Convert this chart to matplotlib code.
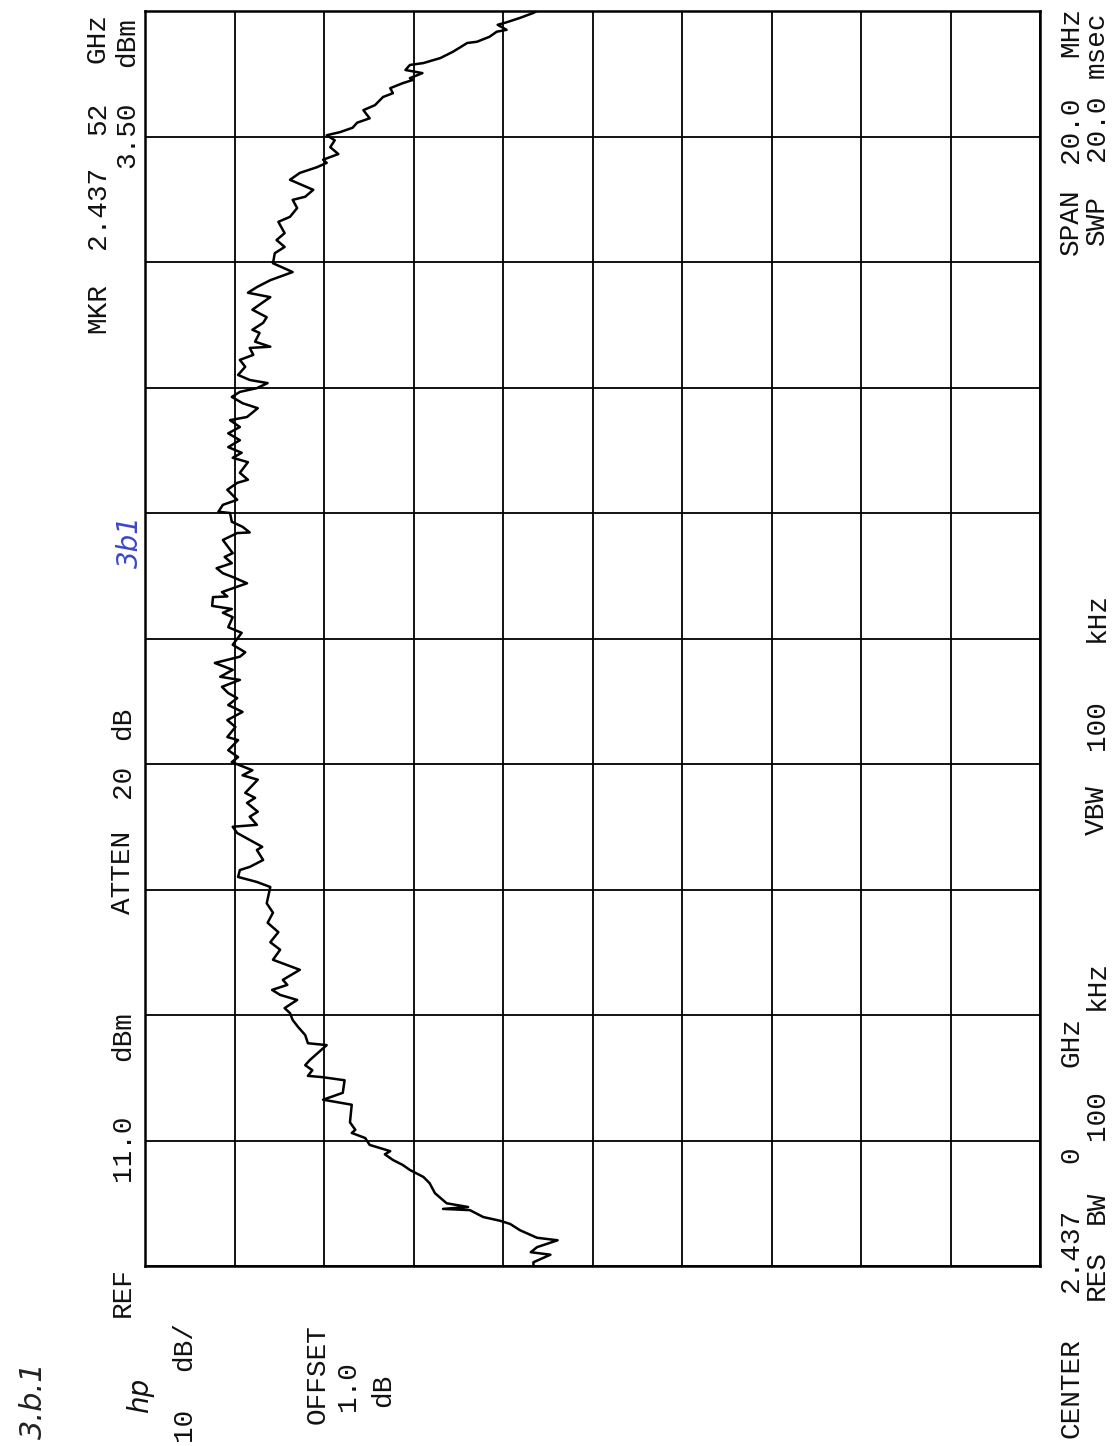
import matplotlib
matplotlib.use("Agg")
import matplotlib.pyplot as plt

# analyzer settings
center_ghz = 2.437
span_mhz = 20.0
ref_dbm = 11.0
db_per_div = 10
n_div = 10

# swept trace: offset from center (MHz) and level (dBm)
freq_offset_mhz = [
    -10.00, -9.94, -9.82, -9.78, -9.70, -9.59, -9.55, -9.43, -9.33, -9.28,
    -9.22, -9.11, -9.09, -9.06, -9.00, -8.84, -8.68, -8.58, -8.47, -8.39,
    -8.31, -8.22, -8.17, -8.07, -7.96, -7.88, -7.83, -7.71, -7.43, -7.35,
    -7.24, -7.04, -6.99, -6.97, -6.88, -6.80, -6.72, -6.48, -6.45, -6.32,
    -6.19, -6.08, -5.97, -5.89, -5.76, -5.68, -5.60, -5.52, -5.44, -5.28,
    -5.12, -4.96, -4.84, -4.68, -4.53, -4.37, -4.22, -3.96, -3.88, -3.80,
    -3.69, -3.64, -3.53, -3.37, -3.32, -3.21, -3.10, -3.00, -2.97, -2.84,
    -2.76, -2.62, -2.54, -2.46, -2.25, -2.18, -2.10, -2.02, -1.97, -1.89,
    -1.78, -1.62, -1.57, -1.41, -1.30, -1.17, -1.06, -0.95, -0.87, -0.77,
    -0.66, -0.61, -0.50, -0.39, -0.29, -0.22, -0.10, 0.09, 0.18, 0.34,
    0.41, 0.47, 0.52, 0.66, 0.67, 0.74, 0.80, 0.88, 0.98, 1.04,
    1.12, 1.20, 1.30, 1.36, 1.57, 1.68, 1.69, 1.78, 1.86, 2.00,
    2.02, 2.13, 2.21, 2.37, 2.48, 2.53, 2.64, 2.81, 2.88, 2.96,
    3.05, 3.16, 3.27, 3.37, 3.48, 3.53, 3.67, 3.75, 3.85, 3.93,
    3.99, 4.07, 4.12, 4.20, 4.33, 4.44, 4.52, 4.63, 4.65, 4.73,
    4.87, 4.92, 5.03, 5.12, 5.24, 5.36, 5.44, 5.51, 5.60, 5.71,
    5.84, 5.98, 6.14, 6.24, 6.35, 6.46, 6.64, 6.72, 6.86, 6.99,
    7.04, 7.15, 7.31, 7.42, 7.51, 7.58, 7.63, 7.72, 7.83, 7.94,
    8.02, 8.07, 8.14, 8.22, 8.29, 8.42, 8.50, 8.63, 8.69, 8.77,
    8.85, 8.90, 8.93, 9.01, 9.06, 9.14, 9.17, 9.25, 9.35, 9.49,
    9.51, 9.59, 9.67, 9.70, 9.78, 9.82, 9.89, 9.97, 10.00,
]
level_dbm = [
    -32.4, -32.4, -34.3, -32.1, -32.8, -35.1, -32.8, -30.9, -29.8, -28.7,
    -26.8, -25.3, -22.3, -25.1, -22.7, -21.4, -20.8, -20.1, -18.6, -17.8,
    -16.7, -15.8, -16.4, -14.1, -13.6, -12.1, -12.5, -11.9, -12.1, -8.9,
    -11.1, -11.3, -8.8, -7.2, -7.7, -6.9, -7.4, -9.3, -7.2, -6.9,
    -6.1, -5.5, -5.2, -4.6, -6.0, -4.1, -3.2, -4.9, -4.4, -6.3,
    -3.3, -4.1, -3.0, -3.9, -2.7, -3.3, -2.6, -3.0, -1.5, 0.6,
    0.4, -0.7, -2.2, -1.5, -2.1, -0.7, 0.7, 1.2, -1.5, -0.7,
    -1.6, -0.4, -1.3, -0.2, -1.6, 0.1, -1.0, 0.4, 1.3, 0.6,
    1.7, 0.6, 1.8, 0.9, 1.8, 0.1, 1.7, 0.7, 1.7, 2.4,
    0.4, 2.6, 1.2, 3.2, 0.4, -0.2, 1.2, 0.2, 1.7, 1.2,
    2.3, 1.3, 3.5, 3.4, 1.8, 2.4, 1.2, -0.4, 1.2, 2.3,
    3.0, 1.3, 2.1, 1.2, 2.3, 0.7, -0.7, 0.1, 1.3, 1.5,
    2.8, 2.3, 0.7, 1.8, 0.7, -0.5, 0.4, -0.5, 1.2, 0.2,
    1.7, 0.4, 1.7, 0.4, 1.5, -0.4, -1.6, 0.1, 1.3, 0.4,
    -1.5, -2.7, -0.7, 0.6, -0.2, 0.4, -1.1, -0.7, -3.0, -1.3,
    -1.8, -1.0, -2.2, -2.6, -1.0, -2.2, -3.0, -0.5, -1.5, -3.0,
    -5.5, -3.3, -3.5, -4.6, -3.7, -4.6, -3.9, -5.2, -6.0, -5.5,
    -6.9, -7.8, -5.2, -6.3, -8.2, -9.3, -8.9, -10.6, -9.7, -10.2,
    -9.3, -10.8, -12.2, -12.7, -14.1, -13.4, -14.7, -15.6, -16.7, -16.4,
    -17.8, -18.9, -18.6, -20.0, -18.1, -18.6, -20.1, -22.0, -23.4, -25.0,
    -26.1, -27.5, -28.3, -29.4, -28.4, -29.4, -30.9, -32.4, -32.8,
]

W, H = 1112, 1446
fig = plt.figure(figsize=(W / 100, H / 100), dpi=100)
fig.patch.set_facecolor("white")

# plot printed sideways: level runs left->right, frequency bottom->top
ax = fig.add_axes([145 / W, 1 - 1266 / H, (1040 - 145) / W, (1266 - 11) / H])
ax.plot(level_dbm, freq_offset_mhz, color="black", lw=1.8)
ax.set_xlim(ref_dbm, ref_dbm - n_div * db_per_div)
ax.set_ylim(-span_mhz / 2, span_mhz / 2)
ax.set_xticks([ref_dbm - i * db_per_div for i in range(n_div + 1)])
ax.set_yticks([-span_mhz / 2 + i * span_mhz / n_div for i in range(n_div + 1)])
ax.tick_params(length=0, labelbottom=False, labelleft=False)
ax.grid(True, color="black", lw=1.3)
for s in ax.spines.values():
    s.set_linewidth(1.8)


def rtext(x, y, s, **kw):
    # x, y in pixels from the top-left corner, text reads bottom to top
    opts = dict(family="Liberation Mono", fontsize=20, color="#111111")
    opts.update(kw)
    fig.text(x / W, 1 - y / H, s, rotation=90, rotation_mode="anchor",
             ha="center", va="center", **opts)


def rline(x, words, **kw):
    # one annotation row, each word centred at its own spot
    for s, y in words:
        rtext(x, y, s, **kw)


marker_ghz = f"{center_ghz + 0.00052:.5f}"
rline(98, [("MKR", 308), (marker_ghz[:5], 207), (marker_ghz[5:], 118),
           ("GHz", 38)])
rline(123, [("REF", 1292), (f"{ref_dbm:.1f}", 1148), ("dBm", 1036),
            ("ATTEN", 872), ("20", 781), ("dB", 723)])
rline(127, [("3.50", 135), ("dBm", 42)])
rline(184, [(f"{db_per_div}", 1424), ("dB/", 1346)])
rtext(318, 1374, "OFFSET")
rtext(348, 1386, "1.0")
rtext(383, 1390, "dB")

rline(1071, [("CENTER", 1388), (f"{center_ghz:.3f}", 1250), ("0", 1155),
             ("GHz", 1042), ("SPAN", 222), (f"{span_mhz:.1f}", 130),
             ("MHz", 32)])
rline(1097, [("RES", 1275), ("BW", 1207), ("100", 1115), ("kHz", 985),
             ("VBW", 810), ("100", 725), ("kHz", 617),
             ("SWP", 220), ("20.0", 128), ("msec", 45)])

rtext(140, 1395, "hp", family="DejaVu Sans", style="italic", fontsize=20)
rtext(33, 1400, "3.b.1", family="DejaVu Sans", style="italic",
      fontsize=22, color="#222222")
rtext(130, 542, "3b1", family="DejaVu Sans", style="italic",
      fontsize=20, color="#3a48c8")

fig.savefig("out.png", dpi=100, facecolor="white")
